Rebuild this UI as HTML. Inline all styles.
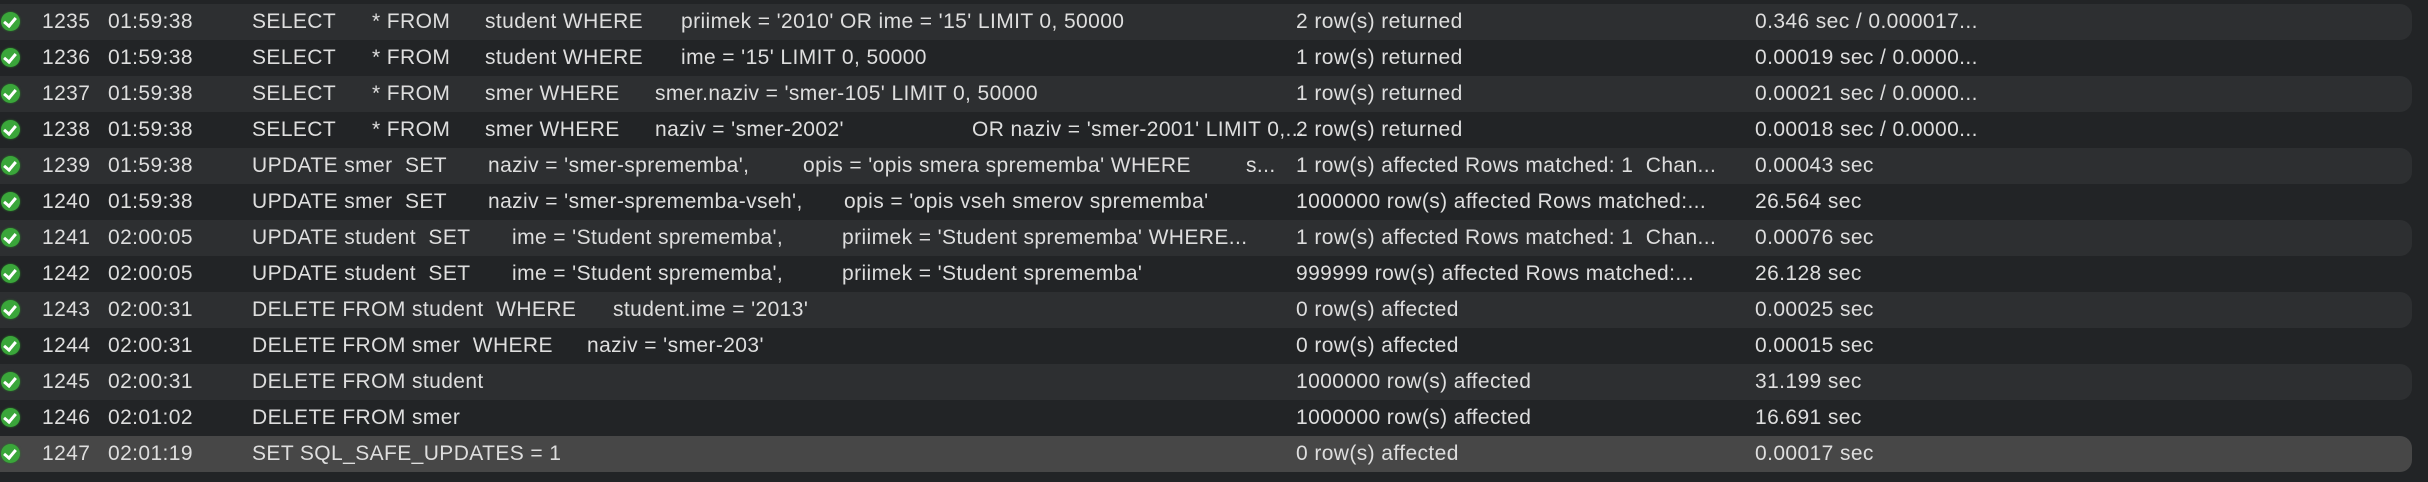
<!DOCTYPE html>
<html><head><meta charset="utf-8"><style>
body{margin:0;width:2428px;height:482px;background:#222426;overflow:hidden;font-family:"Liberation Sans",sans-serif;font-size:21px;letter-spacing:0.4px;color:#dedede}
.r{position:absolute;left:0;width:2412px;height:36px;border-radius:0 12px 12px 0}
.r.a{background:#2d2f31}.r.s{background:#474747}
.t{position:absolute;white-space:pre;line-height:36px;top:0}
.i{position:absolute;left:1px;top:8px;width:19px;height:19px;border-radius:50%;background:#3aa63a;box-shadow:0 0 2px #2a7a2a}
.i:after{content:"";position:absolute;left:5px;top:3px;width:5px;height:9px;border:solid #fff;border-width:0 3px 3px 0;transform:rotate(40deg)}
</style></head><body>
<div class="r a" style="top:4px"><div class="i"></div><span class="t" style="left:42px">1235</span><span class="t" style="left:108px">01:59:38</span><span class="t" style="left:252px">SELECT</span><span class="t" style="left:372px">* FROM</span><span class="t" style="left:485px">student WHERE</span><span class="t" style="left:681px">priimek = '2010' OR ime = '15' LIMIT 0, 50000</span><span class="t" style="left:1296px">2 row(s) returned</span><span class="t" style="left:1755px">0.346 sec / 0.000017...</span></div>
<div class="r" style="top:40px"><div class="i"></div><span class="t" style="left:42px">1236</span><span class="t" style="left:108px">01:59:38</span><span class="t" style="left:252px">SELECT</span><span class="t" style="left:372px">* FROM</span><span class="t" style="left:485px">student WHERE</span><span class="t" style="left:681px">ime = '15' LIMIT 0, 50000</span><span class="t" style="left:1296px">1 row(s) returned</span><span class="t" style="left:1755px">0.00019 sec / 0.0000...</span></div>
<div class="r a" style="top:76px"><div class="i"></div><span class="t" style="left:42px">1237</span><span class="t" style="left:108px">01:59:38</span><span class="t" style="left:252px">SELECT</span><span class="t" style="left:372px">* FROM</span><span class="t" style="left:485px">smer WHERE</span><span class="t" style="left:655px">smer.naziv = 'smer-105' LIMIT 0, 50000</span><span class="t" style="left:1296px">1 row(s) returned</span><span class="t" style="left:1755px">0.00021 sec / 0.0000...</span></div>
<div class="r" style="top:112px"><div class="i"></div><span class="t" style="left:42px">1238</span><span class="t" style="left:108px">01:59:38</span><span class="t" style="left:252px">SELECT</span><span class="t" style="left:372px">* FROM</span><span class="t" style="left:485px">smer WHERE</span><span class="t" style="left:655px">naziv = 'smer-2002'</span><span class="t" style="left:972px">OR naziv = 'smer-2001' LIMIT 0,...</span><span class="t" style="left:1296px">2 row(s) returned</span><span class="t" style="left:1755px">0.00018 sec / 0.0000...</span></div>
<div class="r a" style="top:148px"><div class="i"></div><span class="t" style="left:42px">1239</span><span class="t" style="left:108px">01:59:38</span><span class="t" style="left:252px">UPDATE smer  SET</span><span class="t" style="left:488px">naziv = 'smer-sprememba',</span><span class="t" style="left:803px">opis = 'opis smera sprememba' WHERE</span><span class="t" style="left:1246px">s...</span><span class="t" style="left:1296px">1 row(s) affected Rows matched: 1  Chan...</span><span class="t" style="left:1755px">0.00043 sec</span></div>
<div class="r" style="top:184px"><div class="i"></div><span class="t" style="left:42px">1240</span><span class="t" style="left:108px">01:59:38</span><span class="t" style="left:252px">UPDATE smer  SET</span><span class="t" style="left:488px">naziv = 'smer-sprememba-vseh',</span><span class="t" style="left:844px">opis = 'opis vseh smerov sprememba'</span><span class="t" style="left:1296px">1000000 row(s) affected Rows matched:...</span><span class="t" style="left:1755px">26.564 sec</span></div>
<div class="r a" style="top:220px"><div class="i"></div><span class="t" style="left:42px">1241</span><span class="t" style="left:108px">02:00:05</span><span class="t" style="left:252px">UPDATE student  SET</span><span class="t" style="left:512px">ime = 'Student sprememba',</span><span class="t" style="left:842px">priimek = 'Student sprememba' WHERE...</span><span class="t" style="left:1296px">1 row(s) affected Rows matched: 1  Chan...</span><span class="t" style="left:1755px">0.00076 sec</span></div>
<div class="r" style="top:256px"><div class="i"></div><span class="t" style="left:42px">1242</span><span class="t" style="left:108px">02:00:05</span><span class="t" style="left:252px">UPDATE student  SET</span><span class="t" style="left:512px">ime = 'Student sprememba',</span><span class="t" style="left:842px">priimek = 'Student sprememba'</span><span class="t" style="left:1296px">999999 row(s) affected Rows matched:...</span><span class="t" style="left:1755px">26.128 sec</span></div>
<div class="r a" style="top:292px"><div class="i"></div><span class="t" style="left:42px">1243</span><span class="t" style="left:108px">02:00:31</span><span class="t" style="left:252px">DELETE FROM student  WHERE</span><span class="t" style="left:613px">student.ime = '2013'</span><span class="t" style="left:1296px">0 row(s) affected</span><span class="t" style="left:1755px">0.00025 sec</span></div>
<div class="r" style="top:328px"><div class="i"></div><span class="t" style="left:42px">1244</span><span class="t" style="left:108px">02:00:31</span><span class="t" style="left:252px">DELETE FROM smer  WHERE</span><span class="t" style="left:587px">naziv = 'smer-203'</span><span class="t" style="left:1296px">0 row(s) affected</span><span class="t" style="left:1755px">0.00015 sec</span></div>
<div class="r a" style="top:364px"><div class="i"></div><span class="t" style="left:42px">1245</span><span class="t" style="left:108px">02:00:31</span><span class="t" style="left:252px">DELETE FROM student</span><span class="t" style="left:1296px">1000000 row(s) affected</span><span class="t" style="left:1755px">31.199 sec</span></div>
<div class="r" style="top:400px"><div class="i"></div><span class="t" style="left:42px">1246</span><span class="t" style="left:108px">02:01:02</span><span class="t" style="left:252px">DELETE FROM smer</span><span class="t" style="left:1296px">1000000 row(s) affected</span><span class="t" style="left:1755px">16.691 sec</span></div>
<div class="r s" style="top:436px"><div class="i"></div><span class="t" style="left:42px">1247</span><span class="t" style="left:108px">02:01:19</span><span class="t" style="left:252px">SET SQL_SAFE_UPDATES = 1</span><span class="t" style="left:1296px">0 row(s) affected</span><span class="t" style="left:1755px">0.00017 sec</span></div>
</body></html>
